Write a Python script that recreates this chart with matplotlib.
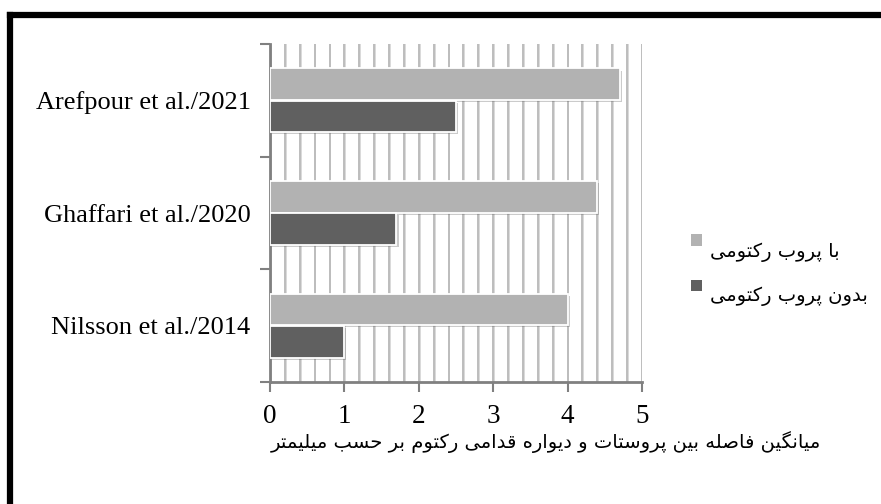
import matplotlib
matplotlib.use("Agg")
import matplotlib.pyplot as plt
import matplotlib.patheffects as pe
from matplotlib.patches import Rectangle
from matplotlib.lines import Line2D
import numpy as np

# ---------------- data ----------------
categories = ["Nilsson et al./2014", "Ghaffari et al./2020", "Arefpour et al./2021"]
with_probe = [4.0, 4.4, 4.7]        # با پروب رکتومی
without_probe = [1.0, 1.7, 2.5]     # بدون پروب رکتومی
x_ticks = [0, 1, 2, 3, 4, 5]
label_with = "با پروب رکتومی"
label_without = "بدون پروب رکتومی"
x_label = "میانگین فاصله بین پروستات و دیواره قدامی رکتوم بر حسب میلیمتر"

# ---------------- simple Persian shaping ----------------
FORMS = {  # iso, fin, ini, med
    "\u0627": ("\uFE8D", "\uFE8E", None, None),
    "\u062F": ("\uFEA9", "\uFEAA", None, None),
    "\u0631": ("\uFEAD", "\uFEAE", None, None),
    "\u0648": ("\uFEED", "\uFEEE", None, None),
    "\u0628": ("\uFE8F", "\uFE90", "\uFE91", "\uFE92"),
    "\u067E": ("\uFB56", "\uFB57", "\uFB58", "\uFB59"),
    "\u062A": ("\uFE95", "\uFE96", "\uFE97", "\uFE98"),
    "\u062D": ("\uFEA1", "\uFEA2", "\uFEA3", "\uFEA4"),
    "\u0633": ("\uFEB1", "\uFEB2", "\uFEB3", "\uFEB4"),
    "\u0635": ("\uFEB9", "\uFEBA", "\uFEBB", "\uFEBC"),
    "\u0641": ("\uFED1", "\uFED2", "\uFED3", "\uFED4"),
    "\u0642": ("\uFED5", "\uFED6", "\uFED7", "\uFED8"),
    "\u06A9": ("\uFB8E", "\uFB8F", "\uFB90", "\uFB91"),
    "\u06AF": ("\uFB92", "\uFB93", "\uFB94", "\uFB95"),
    "\u0644": ("\uFEDD", "\uFEDE", "\uFEDF", "\uFEE0"),
    "\u0645": ("\uFEE1", "\uFEE2", "\uFEE3", "\uFEE4"),
    "\u0646": ("\uFEE5", "\uFEE6", "\uFEE7", "\uFEE8"),
    "\u0647": ("\uFEE9", "\uFEEA", "\uFEEB", "\uFEEC"),
    "\u06CC": ("\uFBFC", "\uFBFD", "\uFBFE", "\uFBFF"),
}


def shape(s):
    out = []
    n = len(s)
    for i, c in enumerate(s):
        f = FORMS.get(c)
        if f is None:
            out.append(c)
            continue
        prev = s[i - 1] if i > 0 else None
        nxt = s[i + 1] if i < n - 1 else None
        cp = prev in FORMS and FORMS[prev][2] is not None
        cn = f[2] is not None and nxt in FORMS
        if cp and cn:
            out.append(f[3])
        elif cp:
            out.append(f[1])
        elif cn:
            out.append(f[2])
        else:
            out.append(f[0])
    return "".join(out)[::-1]


# ---------------- figure ----------------
W, H = 881, 504
fig = plt.figure(figsize=(W / 100, H / 100), dpi=100)
ax = fig.add_axes([270 / W, 1 - 382 / H, (642 - 270) / W, (382 - 44) / H])

y = np.arange(len(categories))
bh = 0.28
off = 0.143
light = "#b2b2b2"
dark = "#606060"
shadow = [pe.SimplePatchShadow(offset=(1.5, -1.5), alpha=0.3, shadow_rgbFace="#555555"), pe.Normal()]

b1 = ax.barh(y + off, with_probe, height=bh, color=light, edgecolor="white", linewidth=1.3, zorder=3)
b2 = ax.barh(y - off, without_probe, height=bh, color=dark, edgecolor="white", linewidth=1.3, zorder=3)
for b in list(b1) + list(b2):
    b.set_path_effects(shadow)

ax.set_xlim(0, 5)
ax.set_ylim(-0.5, 2.5)

# vertical gridlines every 0.2
grid_fx = [pe.SimpleLineShadow(offset=(0.6, 0), alpha=0.15), pe.Normal()]
ax.set_xticks(np.arange(0.2, 5.01, 0.2), minor=True)
ax.grid(True, axis="x", which="minor", color="#bdbdbd", linewidth=1.4, zorder=0, path_effects=grid_fx)
ax.grid(True, axis="x", which="major", color="#bdbdbd", linewidth=1.4, zorder=0, path_effects=grid_fx)
ax.tick_params(axis="x", which="minor", length=0)

ax.set_xticks(x_ticks)
ax.set_xticklabels([str(t) for t in x_ticks], fontfamily="Liberation Serif", fontsize=19.5)
ax.tick_params(axis="x", which="major", length=7, width=1.5, color="#808080", pad=9)

# category ticks at boundaries, labels centered
ax.set_yticks([-0.5, 0.5, 1.5, 2.5])
ax.set_yticklabels([])
ax.tick_params(axis="y", which="major", length=7, width=1.5, color="#808080")
ax.set_yticks(y, minor=True)
ax.set_yticklabels(categories, minor=True, fontfamily="Liberation Serif", fontsize=19)
ax.tick_params(axis="y", which="minor", length=0, pad=14)

for s in ["top", "right"]:
    ax.spines[s].set_visible(False)
for s in ["left", "bottom"]:
    ax.spines[s].set_color("#808080")
    ax.spines[s].set_linewidth(2)

ax.set_xlabel(shape(x_label), fontfamily="DejaVu Sans", fontsize=14, va="center")
ax.xaxis.set_label_coords((546 - 270) / 372, (382 - 442) / 338)

# legend (marker left of right-to-left text)
leg_items = [(label_with, light, 240, 252), (label_without, dark, 285, 296)]
for txt, col, my, ty in leg_items:
    fig.add_artist(Rectangle((691 / W, 1 - (my + 5.5) / H), 11 / W, 11 / H, facecolor=col,
                             edgecolor="none", transform=fig.transFigure))
    fig.text(710 / W, 1 - ty / H, shape(txt), fontfamily="DejaVu Sans", fontsize=14,
             ha="left", va="center")

# outer black frame (top and left visible)
fig.add_artist(Line2D([10 / W, 1.01], [1 - 15 / H, 1 - 15 / H], color="black", lw=4.5,
                      transform=fig.transFigure, solid_capstyle="projecting"))
fig.add_artist(Line2D([10 / W, 10 / W], [1 - 15 / H, -0.01], color="black", lw=4.5,
                      transform=fig.transFigure, solid_capstyle="projecting"))

fig.savefig("out.png", dpi=100)
